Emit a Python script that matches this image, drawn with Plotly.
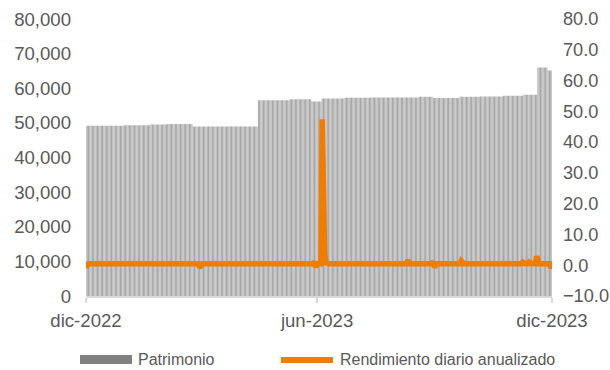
import pandas as pd
import plotly.graph_objects as go

# ---- Data ----
# Patrimonio: step levels (start date of each level, value)
patr_start = ["2022-12-31", "2023-01-30", "2023-02-19", "2023-03-05", "2023-03-25",
              "2023-05-15", "2023-06-09", "2023-06-26", "2023-07-04", "2023-07-22",
              "2023-08-11", "2023-09-18", "2023-09-29", "2023-10-20", "2023-11-05",
              "2023-11-23", "2023-12-09", "2023-12-20", "2023-12-28"]
patr_level = [49200, 49300, 49550, 49650, 48950,
              56500, 56800, 56150, 57070, 57240,
              57300, 57550, 57150, 57550, 57650,
              57850, 58150, 66000, 65150]

# Rendimiento diario anualizado: usual level and the days that differ from it
rend_base = 0.5
rend_dates = ["2022-12-31", "2023-03-30", "2023-06-28", "2023-06-29", "2023-07-04",
              "2023-07-05", "2023-07-06", "2023-07-07", "2023-09-09", "2023-09-29",
              "2023-09-30", "2023-10-21", "2023-12-08", "2023-12-13", "2023-12-19",
              "2023-12-30", "2023-12-31"]
rend_values = [-0.8, -0.8, 1.2, -0.7, 47.4,
               4.0, 3.5, 0.8, 1.6, 1.2,
               -0.8, 1.4, 1.0, 1.0, 2.9,
               -0.9, 0.2]

tick_vals = ["2022-12-31", "2023-06-30", "2023-12-31"]
tick_text = ["dic-2022", "jun-2023", "dic-2023"]

# ---- Build daily series ----
days = pd.date_range("2022-12-31", "2023-12-31", freq="D")
patr = pd.Series(patr_level, index=pd.to_datetime(patr_start)).reindex(days).ffill()
rend = pd.Series(rend_base, index=days)
rend.loc[pd.to_datetime(rend_dates)] = rend_values

GRAY_TXT = "#595959"
FONT = "Liberation Sans, Arial, sans-serif"
ORANGE = "#F07D00"
BAR = "rgba(155,155,155,0.99)"

fig = go.Figure()
fig.add_trace(go.Bar(x=days, y=patr.values, name="Patrimonio", marker=dict(color=BAR, line=dict(width=0)),
                     showlegend=False))
fig.add_trace(go.Scatter(x=days, y=rend.values, name="Rendimiento diario anualizado", yaxis="y2",
                         mode="lines", line=dict(color=ORANGE, width=5.5), showlegend=False))

fig.update_layout(
    width=610, height=370,
    margin=dict(l=86, r=58, t=19, b=74),
    paper_bgcolor="white", plot_bgcolor="white",
    bargap=0.3,
    font=dict(family=FONT, color=GRAY_TXT, size=18.6),
    xaxis=dict(type="date", range=["2022-12-31", "2023-12-31"], tickvals=tick_vals, ticktext=tick_text,
               showgrid=False, showline=True, linecolor="#d9d9d9", linewidth=1.5,
               ticks="outside", ticklen=5, tickcolor="#d9d9d9", tickwidth=1.5, automargin=False,
               tickfont=dict(size=18.6, color=GRAY_TXT), ticklabelstandoff=2),
    yaxis=dict(range=[0, 80000], dtick=10000, tickformat=",", showgrid=False, zeroline=False,
               showline=False, ticks="", automargin=False,
               tickfont=dict(size=18.6, color=GRAY_TXT), ticklabelstandoff=14),
    yaxis2=dict(range=[-10, 80], dtick=10, tickformat=".1f", overlaying="y", side="right",
                showgrid=False, zeroline=False, showline=False, ticks="", automargin=False,
                tickfont=dict(size=18.2, color=GRAY_TXT), ticklabelstandoff=10),
)

# ---- Manual legend (paper coordinates) ----
def px_x(p):
    return (p - 86) / 466.0

def px_y(p):
    return (296 - p) / 277.0

fig.add_shape(type="rect", xref="paper", yref="paper", x0=px_x(80), x1=px_x(132),
              y0=px_y(364), y1=px_y(355), fillcolor="#808080", line=dict(width=0))
fig.add_annotation(xref="paper", yref="paper", x=px_x(136), y=px_y(359.5), text="Patrimonio",
                   showarrow=False, xanchor="left", yanchor="middle",
                   font=dict(size=16, color=GRAY_TXT, family=FONT))
fig.add_shape(type="line", xref="paper", yref="paper", x0=px_x(281), x1=px_x(333),
              y0=px_y(360), y1=px_y(360), line=dict(color=ORANGE, width=6))
fig.add_annotation(xref="paper", yref="paper", x=px_x(338), y=px_y(359.5),
                   text="Rendimiento diario anualizado",
                   showarrow=False, xanchor="left", yanchor="middle",
                   font=dict(size=16, color=GRAY_TXT, family=FONT))

fig.write_html("out.html")
